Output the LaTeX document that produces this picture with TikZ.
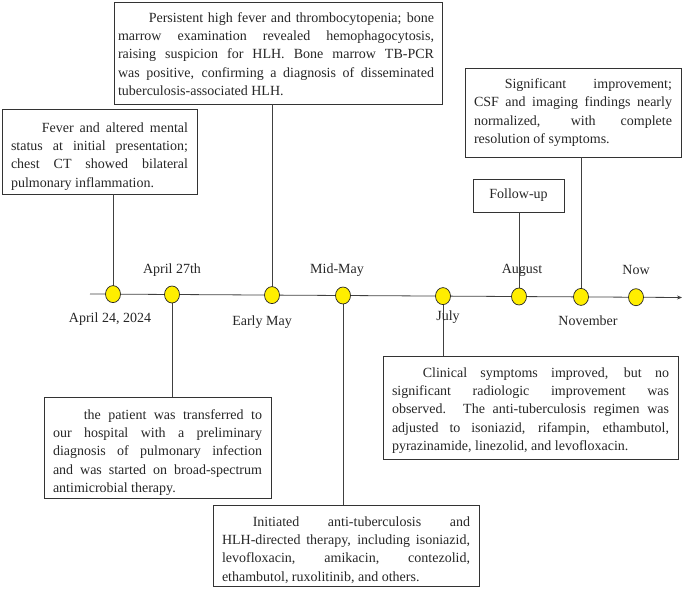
\documentclass[tikz,border=0pt]{standalone}
\usepackage{fontspec}
\setmainfont{Liberation Serif}
\usetikzlibrary{arrows.meta,shapes.geometric}
\newcommand\JL[1]{\hbox to\hsize{#1}}
\newcommand\LL[1]{\hbox to\hsize{#1\hfil}}
\newcommand\IN{\hskip 2.2em}
\newcommand\BX[3]{\vbox{\hsize=#1\relax\kern#2\relax #3}}
\definecolor{dotyellow}{RGB}{255,238,0}
\tikzset{
  box/.style={draw=black!80, line width=0.8pt, inner sep=0pt, font=\fontsize{14}{18.2}\selectfont, text=black!85},
  lbl/.style={inner sep=0pt, font=\fontsize{14}{16}\selectfont, text=black!85},
  conn/.style={draw=black!75, line width=0.8pt},
  tdot/.style={ellipse, draw=black!85, line width=0.7pt, fill=dotyellow, minimum width=15pt, minimum height=17pt, inner sep=0pt}
}
\begin{document}
\begin{tikzpicture}[x=1pt,y=-1pt]
\useasboundingbox (0,0) rectangle (685,592);
% boxes
\node[box, minimum width=195pt, minimum height=85pt] (b1) at (99.5,151.5)
 {\BX{177pt}{10pt}{\JL{\IN Fever and altered mental}\JL{status at initial presentation;}\JL{chest CT showed bilateral}\LL{pulmonary inflammation.}}};
\node[box, minimum width=328pt, minimum height=102pt] (b2) at (278,53)
 {\hbox{\BX{316pt}{2pt}{\JL{\IN Persistent high fever and thrombocytopenia; bone}\JL{marrow examination revealed hemophagocytosis,}\JL{raising suspicion for HLH. Bone marrow TB-PCR}\JL{was positive, confirming a diagnosis of disseminated}\LL{tuberculosis-associated HLH.}}\kern4pt}};
\node[box, minimum width=216pt, minimum height=89pt] (b3) at (573,112.5)
 {\BX{198pt}{0pt}{\JL{\IN Significant improvement;}\JL{CSF and imaging findings nearly}\JL{normalized, with complete}\LL{resolution of symptoms.}}};
\node[box, minimum width=91pt, minimum height=33pt] (b4) at (518.5,195.5) {Follow-up};
\node[box, minimum width=227pt, minimum height=101pt] (b5) at (157.5,447.5)
 {\BX{209pt}{10pt}{\JL{\IN the patient was transferred to}\JL{our hospital with a preliminary}\JL{diagnosis of pulmonary infection}\JL{and was started on broad-spectrum}\LL{antimicrobial therapy.}}};
\node[box, minimum width=266pt, minimum height=81pt] (b6) at (346,545.5)
 {\BX{248pt}{9pt}{\JL{\IN Initiated anti-tuberculosis and}\JL{HLH-directed therapy, including isoniazid,}\JL{levofloxacin, amikacin, contezolid,}\LL{ethambutol, ruxolitinib, and others.}}};
\node[box, minimum width=295pt, minimum height=103pt] (b7) at (530.5,407.5)
 {\BX{277pt}{6pt}{\JL{\IN Clinical symptoms improved, but no}\JL{significant radiologic improvement was}\JL{observed. The anti-tuberculosis regimen was}\JL{adjusted to isoniazid, rifampin, ethambutol,}\LL{pyrazinamide, linezolid, and levofloxacin.}}};
% timeline
\coordinate (ts) at (90,294);
\coordinate (te) at (682,297.5);
\draw[conn, -{Stealth[length=5pt,width=4pt]}] (ts) -- (te);
\coordinate (p1) at (113,294.1);
\coordinate (p2) at (172,294.5);
\coordinate (p3) at (272,295.1);
\coordinate (p4) at (343,295.5);
\coordinate (p5) at (443,296.1);
\coordinate (p6) at (519,296.5);
\coordinate (p7) at (581,296.9);
\coordinate (p8) at (636,297.2);
% connectors
\draw[conn] (p1 |- b1.south) -- (p1);
\draw[conn] (p2 |- b5.north) -- (p2);
\draw[conn] (p3 |- b2.south) -- (p3);
\draw[conn] (p4 |- b6.north) -- (p4);
\draw[conn] (p5 |- b7.north) -- (p5);
\draw[conn] (p6 |- b4.south) -- (p6);
\draw[conn] (p7 |- b3.south) -- (p7);
% dots
\foreach \i in {1,...,8} \node[tdot] (d\i) at (p\i) {};
% labels
\node[lbl] (l1) at (110,319) {April 24, 2024};
\node[lbl] (l2) at (172,270) {April 27th};
\node[lbl] (l3) at (262,322) {Early May};
\node[lbl] (l4) at (337,270) {Mid-May};
\node[lbl] (l5) at (448,317) {July};
\node[lbl] (l6) at (522,270) {August};
\node[lbl] (l7) at (588,321) {November};
\node[lbl] (l8) at (636,270) {Now};
\end{tikzpicture}
\end{document}
